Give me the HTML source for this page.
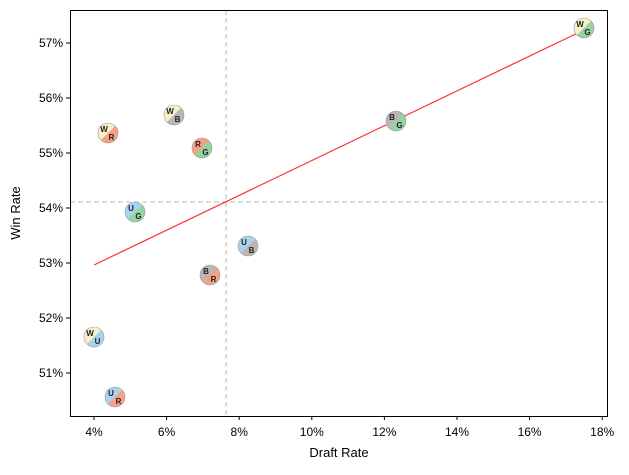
<!DOCTYPE html><html><head><style>body{margin:0;background:#fff}text{font-family:"Liberation Sans",sans-serif}</style></head><body>
<svg width="629" height="470" xmlns="http://www.w3.org/2000/svg">
<defs>
<clipPath id="c"><circle r="10"/></clipPath>
<g id="W"><circle r="10" fill="#f8f0c8"/></g>
</defs>
<line x1="226" y1="10" x2="226" y2="416" stroke="#bbb" stroke-dasharray="5,3"/>
<line x1="70" y1="202" x2="608" y2="202" stroke="#bbb" stroke-dasharray="5,3"/>
<line x1="94" y1="265" x2="584" y2="30" stroke="#f33" stroke-width="1.2"/>
<g font-size="8" font-weight="bold" fill="#222">
<script type="text/template"></script>
</g>
<g id="pts"></g>
<rect x="70.5" y="10.5" width="537" height="406" fill="none" stroke="#000"/>
<g font-size="13" fill="#000" text-anchor="middle">
<g stroke="#000"><line x1="94" y1="416" x2="94" y2="420"/><line x1="160" y1="416" x2="160" y2="420"/><line x1="226" y1="416" x2="226" y2="420"/><line x1="292" y1="416" x2="292" y2="420"/><line x1="314" y1="416" x2="314" y2="420" stroke="none"/></g>
</g>
</svg>
<script>
var s=document.querySelector('svg'),ns="http://www.w3.org/2000/svg";
function el(t,a,p){var e=document.createElementNS(ns,t);for(var k in a)e.setAttribute(k,a[k]);(p||s).appendChild(e);return e}
// clear placeholder ticks
s.querySelectorAll('g[stroke="#000"]').forEach(g=>g.remove());
var col={W:"#f8f0c8",U:"#a8d4f0",B:"#bdb5b5",R:"#f4a283",G:"#96d2a2"};
var pts=[["WG",584,28],["BG",396,121],["WB",174,115],["WR",108,133],["RG",202,148],["UG",135,212],["UB",248,246],["BR",210,275],["WU",94,337],["UR",115,397]];
var rect=s.querySelector('rect');
pts.forEach(p=>{var g=el('g',{transform:'translate('+p[1]+','+p[2]+')'});s.insertBefore(g,rect);
el('circle',{r:10,fill:col[p[0][1]]},g);
el('path',{d:'M7.07,-7.07 A10,10 0 0 0 -7.07,7.07 Z',fill:col[p[0][0]]},g);
el('circle',{r:10,fill:'none',stroke:'#999','stroke-width':0.6},g);
var t=el('text',{x:-4,y:-1,'font-size':8,'font-weight':'bold','text-anchor':'middle',fill:'#222'},g);t.textContent=p[0][0];
t=el('text',{x:3.5,y:7,'font-size':8,'font-weight':'bold','text-anchor':'middle',fill:'#222'},g);t.textContent=p[0][1];});
for(var i=0;i<8;i++){var v=4+2*i,x=94+(v-4)*36.3;
el('line',{x1:x,y1:416,x2:x,y2:420,stroke:'#000'});
var t=el('text',{x:x,y:436,'font-size':12,'text-anchor':'middle'});t.textContent=v+'%';}
for(var i=51;i<=57;i++){var y=373-(i-51)*55;
el('line',{x1:66,y1:y,x2:70,y2:y,stroke:'#000'});
var t=el('text',{x:63,y:y+4,'font-size':12,'text-anchor':'end'});t.textContent=i+'%';}
var t=el('text',{x:339,y:457,'font-size':13,'text-anchor':'middle'});t.textContent='Draft Rate';
t=el('text',{x:20,y:213,'font-size':13,'text-anchor':'middle',transform:'rotate(-90 20 213)'});t.textContent='Win Rate';
</script>
</body></html>
